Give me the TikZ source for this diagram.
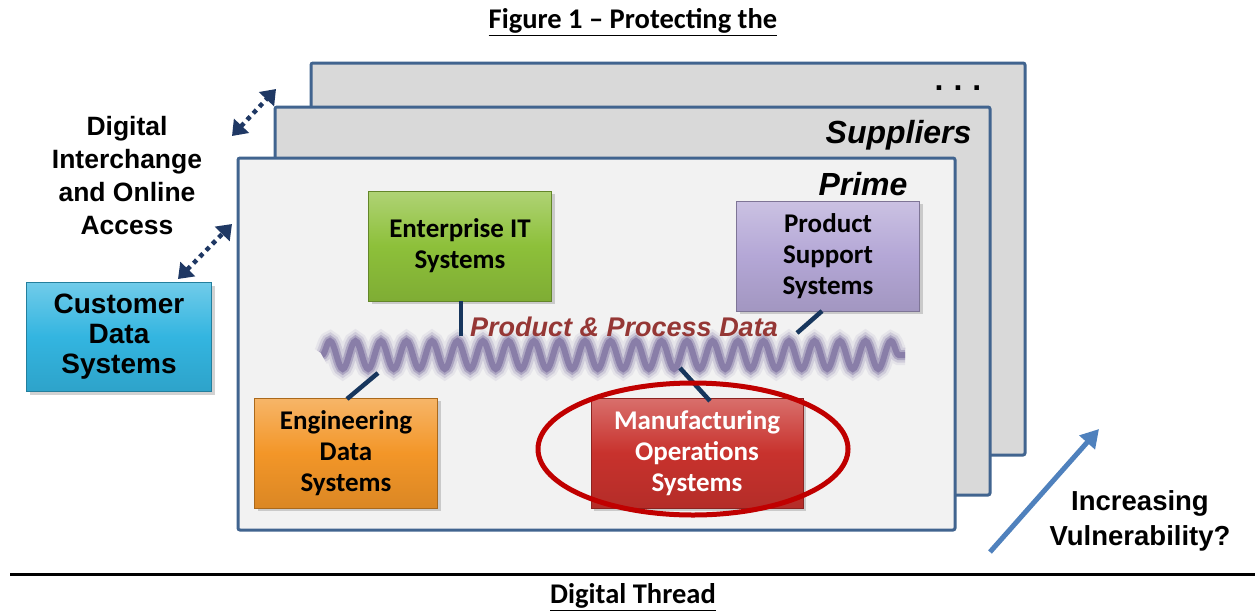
\documentclass[tikz,border=0pt]{standalone}
\usepackage{fontspec}
\setmainfont{Liberation Sans}
\newfontfamily\calfont{Carlito}
\usetikzlibrary{shadows,arrows.meta,decorations.pathmorphing}
\definecolor{frameblue}{HTML}{41648F}
\definecolor{backgray}{HTML}{D9D9D9}
\definecolor{primegray}{HTML}{F2F2F2}
\definecolor{navy}{HTML}{1F3864}
\definecolor{linknavy}{HTML}{17365D}
\definecolor{wavepurple}{HTML}{7B6E9E}
\definecolor{datared}{HTML}{953735}
\definecolor{ellred}{HTML}{C00000}
\definecolor{arrowblue}{HTML}{4F81BD}
\definecolor{entgreen}{HTML}{8DC03A}
\definecolor{pslav}{HTML}{B4A7D6}
\definecolor{custcyan}{HTML}{33B5E0}
\definecolor{engorange}{HTML}{F39628}
\definecolor{mfgred}{HTML}{C8322D}
\tikzset{
  frame/.style={draw=frameblue, line width=3pt},
  sysbox/.style={draw=#1!70!black, line width=0.8pt, top color=#1!70!white, bottom color=#1!90!black, middle color=#1,
    drop shadow={shadow xshift=3pt, shadow yshift=-3pt, opacity=0.35}, minimum width=183pt, minimum height=110pt,
    align=center, inner sep=0pt},
  boxtext/.style={font=\calfont\bfseries\fontsize{27}{31}\selectfont},
  link/.style={draw=linknavy, line width=4.5pt},
  dotarrow/.style={draw=navy, line width=4.5pt, dash pattern=on 4.5pt off 4.5pt, {Triangle[length=14pt,width=20pt]}-{Triangle[length=14pt,width=20pt]}},
  bigtext/.style={font=\bfseries\fontsize{26.5}{33}\selectfont, align=center},
  titletext/.style={font=\calfont\bfseries\fontsize{28.5}{30}\selectfont},
  framelabel/.style={font=\bfseries\itshape\fontsize{32}{32}\selectfont, anchor=east},
}
\begin{document}
\begin{tikzpicture}[x=1pt,y=-1pt]
\useasboundingbox[fill=white] (0,0) rectangle (1255,611);
% title
\node[titletext] (title) at (633,22) {\underline{Figure 1 – Protecting the}};
\node[titletext] (title2) at (633,597) {\underline{Digital Thread}};
\draw[line width=3pt] (10,574) coordinate (hl) -- (1255,574) coordinate (hr);
% frames
\draw[frame, fill=backgray, rounded corners=2pt] (311,63) rectangle (1025,455);
\node[font=\bfseries\fontsize{32}{32}\selectfont] (dots) at (958,88) {.\hspace{10pt}.\hspace{10pt}.};
\draw[frame, fill=backgray, rounded corners=2pt] (275,107) rectangle (990,495);
\node[framelabel] (sup) at (975,135) {Suppliers};
\draw[frame, fill=primegray, rounded corners=2pt] (238,158) rectangle (955,530);
\node[framelabel] (prime) at (911,184) {Prime};
% wave
\foreach \w/\o in {20/0.1,15/0.2,10/0.4,6/0.7}{
\draw[wavepurple, line width=\w pt, opacity=\o, decorate, decoration={snake, amplitude=14pt, segment length=25.5pt}]
  (322,355) -- (905,355);
}
% product & process data
\node[font=\bfseries\itshape\fontsize{27}{27}\selectfont, text=datared] (ppd) at (624,327) {Product \& Process Data};
% boxes
\node[sysbox=entgreen, boxtext] (ent) at (460,246) {Enterprise IT\\Systems};
\node[sysbox=pslav, boxtext] (ps) at (828,256) {Product\\Support\\Systems};
\node[sysbox=custcyan, minimum width=185pt, minimum height=109pt, font=\bfseries\fontsize{28}{30}\selectfont] (cust) at (119,337) {Customer\\Data\\Systems};
\node[sysbox=engorange, boxtext] (eng) at (346,453) {Engineering\\Data\\Systems};
\node[sysbox=mfgred, boxtext, text=white, minimum width=212pt] (mfg) at (697,453) {Manufacturing\\Operations\\Systems};
% connectors
\coordinate (w1) at (461,336);
\coordinate (w2) at (797,333);
\coordinate (w3) at (378,373);
\coordinate (w4) at (680,368);
\draw[link] (ent.south -| w1) -- (w1);
\draw[link] (822,311) coordinate (p1) -- (w2);
\draw[link] (w3) -- (347,399) coordinate (e1);
\draw[link] (w4) -- (710,401) coordinate (m1);
% ellipse
\draw[ellred, line width=5pt] (693,449) ellipse [x radius=155, y radius=66];
% interchange
\node[bigtext] (dia) at (127,176) {Digital\\Interchange\\and Online\\Access};
\coordinate (a1s) at (232,136); \coordinate (a1e) at (276,89);
\coordinate (a2s) at (178,279); \coordinate (a2e) at (232,224);
\draw[dotarrow] (a1s) -- (a1e);
\draw[dotarrow] (a2s) -- (a2e);
% vulnerability
\coordinate (vs) at (990,552); \coordinate (ve) at (1099,429);
\draw[arrowblue, line width=5pt, -{Triangle[length=18pt,width=20pt]}] (vs) -- (ve);
\node[bigtext, font=\bfseries\fontsize{27.5}{35}\selectfont] (vul) at (1140,521) {Increasing\\Vulnerability?};
\end{tikzpicture}
\end{document}
